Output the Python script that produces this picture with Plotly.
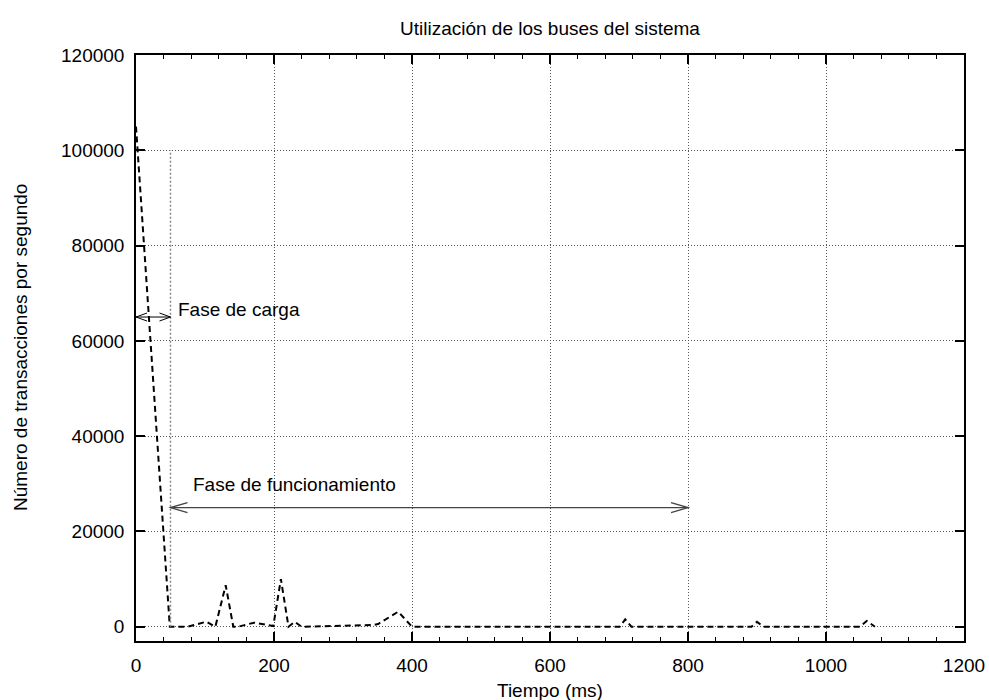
import plotly.graph_objects as go

# Data
tiempo_ms = [0, 49, 75, 102, 115, 130, 141, 148, 171, 199, 210, 221, 230, 240,
             344, 351, 380, 400, 701, 709, 718, 892, 900, 909, 1049, 1059, 1071]
transacciones = [105000, 0, 0, 1050, 0, 8700, 0, 0, 850, 150, 10000, 0, 1050, 0,
                 350, 570, 3150, 0, 0, 1550, 0, 0, 1050, 0, 0, 1200, 0]

x_ticks = [0, 200, 400, 600, 800, 1000, 1200]
y_ticks = [0, 20000, 40000, 60000, 80000, 100000, 120000]

carga_range = [0, 50]
carga_y = 65000
func_range = [50, 800]
func_y = 25000
marker_x = 50
marker_top = 100000

FONT = "Liberation Sans, Arial, Helvetica, sans-serif"
FS = 19

fig = go.Figure()
fig.add_trace(go.Scatter(
    x=tiempo_ms, y=transacciones, mode="lines",
    line=dict(color="black", width=2, dash="6px,4px"),
    showlegend=False, hoverinfo="skip"))

shapes = []
# dotted vertical marker at end of load phase
shapes.append(dict(type="line", xref="x", yref="y", x0=marker_x, x1=marker_x,
                   y0=0, y1=marker_top, line=dict(color="#888", width=1.5, dash="2px,2px")))
# carga arrow
shapes.append(dict(type="line", xref="x", yref="y", x0=carga_range[0], x1=carga_range[1],
                   y0=carga_y, y1=carga_y, line=dict(color="black", width=1)))
# funcionamiento arrow
shapes.append(dict(type="line", xref="x", yref="y", x0=func_range[0], x1=func_range[1],
                   y0=func_y, y1=func_y, line=dict(color="#444", width=1.3)))


def head(xa, ya, direction, length, half, color, width):
    d = length * direction
    return dict(type="path", xref="x", yref="y", xsizemode="pixel", ysizemode="pixel",
                xanchor=xa, yanchor=ya,
                path=f"M {d},{half} L 0,0 L {d},{-half}",
                line=dict(color=color, width=width))


shapes.append(head(carga_range[0], carga_y, 1, 11, 4, "black", 1))
shapes.append(head(carga_range[1], carga_y, -1, 11, 4, "black", 1))
shapes.append(head(func_range[0], func_y, 1, 17, 5, "#444", 1.3))
shapes.append(head(func_range[1], func_y, -1, 17, 5, "#444", 1.3))

annotations = [
    dict(text="Fase de carga", x=58, y=66500, xref="x", yref="y", xanchor="left",
         yanchor="middle", showarrow=False, font=dict(size=FS, color="black", family=FONT)),
    dict(text="Fase de funcionamiento", x=79, y=29800, xref="x", yref="y", xanchor="left",
         yanchor="middle", showarrow=False, font=dict(size=FS, color="black", family=FONT)),
    dict(text="Utilización de los buses del sistema", x=0.5, y=1, xref="paper", yref="paper",
         xanchor="center", yanchor="middle", yshift=27, showarrow=False,
         font=dict(size=FS, color="black", family=FONT)),
    dict(text="Tiempo (ms)", x=0.5, y=0, xref="paper", yref="paper",
         xanchor="center", yanchor="middle", yshift=-49, showarrow=False,
         font=dict(size=FS, color="black", family=FONT)),
    dict(text="Número de transacciones por segundo", x=0, y=0.5, xref="paper", yref="paper",
         xanchor="center", yanchor="middle", xshift=-116, textangle=-90, showarrow=False,
         font=dict(size=FS, color="black", family=FONT)),
]

fig.update_layout(
    width=989, height=700,
    margin=dict(l=136, r=25, t=55, b=59, autoexpand=False),
    paper_bgcolor="white", plot_bgcolor="white",
    font=dict(family=FONT, size=FS, color="black"),
    shapes=shapes, annotations=annotations,
    showlegend=False,
)

GRID = dict(showgrid=True, gridcolor="#555", griddash="1px,2px", gridwidth=1)

fig.update_xaxes(
    range=[0, 1200], tickvals=x_ticks, ticktext=[str(v) for v in x_ticks],
    ticks="inside", ticklen=9, tickwidth=1.5, tickcolor="black",
    showline=True, linecolor="black", linewidth=1.5, mirror="ticks",
    zeroline=False, ticklabelstandoff=6, automargin=False,
    minor=dict(ticks="inside", ticklen=4.5, tickwidth=1, tickcolor="black", dtick=40,
               tick0=0, showgrid=False),
    tickfont=dict(size=FS, family=FONT, color="black"),
    **GRID,
)
fig.update_yaxes(
    range=[-3000, 120000], tickvals=y_ticks, ticktext=[str(v) for v in y_ticks],
    ticks="inside", ticklen=9, tickwidth=1.5, tickcolor="black",
    showline=True, linecolor="black", linewidth=1.5, mirror="ticks",
    zeroline=False, ticklabelstandoff=6, automargin=False,
    tickfont=dict(size=FS, family=FONT, color="black"),
    **GRID,
)

fig.write_html("out.html")
